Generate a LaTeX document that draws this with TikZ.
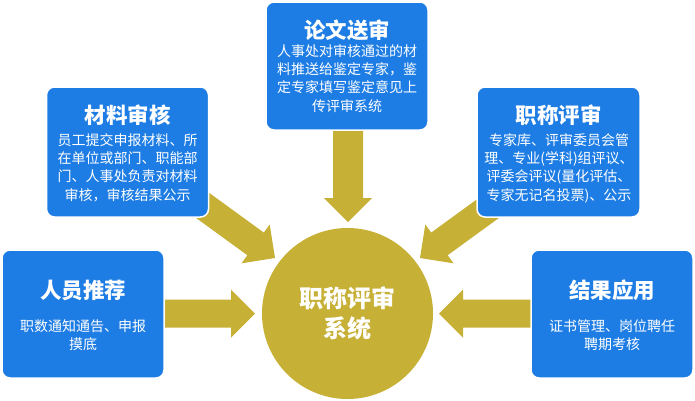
\documentclass[tikz,border=0pt]{standalone}
\usepackage{fontspec}
\setmainfont{Noto Sans CJK SC}
\definecolor{boxblue}{HTML}{1E7DE4}
\definecolor{gold}{HTML}{C7B036}
\tikzset{
  infobox/.style={draw=white,line width=1.5pt,fill=boxblue,rounded corners=8pt,minimum width=162pt,minimum height=128pt,inner sep=0pt},
  titletext/.style={text=white,font=\fontsize{21.5}{24}\selectfont\bfseries,inner sep=0pt},
  bodytext/.style={text=white,font=\fontsize{14}{18.2}\selectfont,align=center,inner sep=0pt},
  bigarrow/.style={fill=gold,draw=none}
}
\newcommand\fatarrow[4]{% tip, angle, length, shaft half width
  \begin{scope}[shift={(#1)},rotate=#2]
    \fill[gold] (0,0) -- (-24,24) -- (-24,#4) -- (-#3,#4) -- (-#3,-#4) -- (-24,-#4) -- (-24,-24) -- cycle;
  \end{scope}}
\begin{document}
\begin{tikzpicture}[x=1pt,y=-1pt]
\useasboundingbox (0,0) rectangle (695,400);
% circle
\node[circle,fill=gold,minimum size=171pt,inner sep=0pt] (sys) at (347.5,313.5) {};
\node[text=white,font=\fontsize{24}{30}\selectfont\bfseries,align=center] (systext) at (347.5,313) {职称评审\\系统};
% arrow tips
\coordinate (tipL) at (255,313.5);
\coordinate (tipR) at (439,313.5);
\coordinate (tipT) at (348,222);
\coordinate (tipTL) at (275,258);
\coordinate (tipTR) at (420,258);
\fatarrow{tipL}{0}{110}{14}
\fatarrow{tipR}{180}{110}{14}
\fatarrow{tipT}{-90}{100}{15}
\fatarrow{tipTL}{-36}{110}{14}
\fatarrow{tipTR}{-144}{110}{14}
% boxes
\node[infobox,minimum height=130pt] (b1) at (127.5,152) {};
\node[infobox] (b2) at (83,314) {};
\node[infobox] (b3) at (347,66) {};
\node[infobox,minimum height=130pt,minimum width=163pt] (b4) at (558.5,152) {};
\node[infobox] (b5) at (612,314) {};
% texts
\node[titletext] (t1) at (127.5,115) {材料审核};
\node[bodytext,anchor=north] (d1) at (127.5,133.5) {员工提交申报材料、所\\在单位或部门、职能部\\门、人事处负责对材料\\审核，审核结果公示};
\node[titletext] (t2) at (83,290) {人员推荐};
\node[bodytext,anchor=north] (d2) at (83,319.5) {职数通知通告、申报\\摸底};
\node[titletext] (t3) at (347,30) {论文送审};
\node[bodytext,anchor=north] (d3) at (347,44.5) {人事处对审核通过的材\\料推送给鉴定专家，鉴\\定专家填写鉴定意见上\\传评审系统};
\node[titletext] (t4) at (558.5,115) {职称评审};
\node[bodytext,anchor=north] (d4) at (559,133.5) {专家库、评审委员会管\\理、专业(学科)组评议、\\评委会评议(量化评估、\\专家无记名投票)、公示};
\node[titletext] (t5) at (612,290) {结果应用};
\node[bodytext,anchor=north] (d5) at (612,319.5) {证书管理、岗位聘任\\聘期考核};
\end{tikzpicture}
\end{document}
